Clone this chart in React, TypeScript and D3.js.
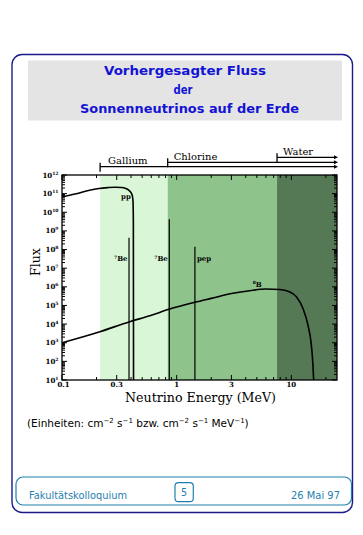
import React from "react";
import * as d3 from "d3";

// ---- data ----
const thresholdNames = ["Gallium", "Chlorine", "Water"];
const thresholdEnergy = [0.215, 0.835, 7.5]; // MeV
const regionColors = ["#d9f7d7", "#8ec38c", "#557955"];

const ppEnergy = [0.1, 0.13, 0.17, 0.21, 0.25, 0.29, 0.33, 0.36, 0.38, 0.4, 0.41, 0.416, 0.419, 0.4205];
const ppFlux = [6.6e10, 9.5e10, 1.48e11, 1.9e11, 2.1e11, 2.2e11, 2.14e11, 1.9e11, 1.58e11, 1.12e11, 7.9e10, 4.0e10, 3.2e9, 10];

const b8Energy = [0.1, 0.214, 0.39, 0.584, 0.855, 1.44, 2.0, 3.09, 4.33, 6.0, 7.9, 9.6, 11.06, 12.6, 13.95, 14.93, 15.42, 15.64];
const b8Flux = [1.0e3, 3.9e3, 1.35e4, 2.8e4, 6.2e4, 1.48e5, 2.4e5, 4.5e5, 6.2e5, 7.6e5, 7.2e5, 5.5e5, 2.95e5, 7.1e4, 8.9e3, 760, 65, 10];

const lineMass = ["7", "7", ""];
const lineNames = ["Be", "Be", "pep"];
const lineEnergy = [0.384, 0.862, 1.442];
const lineFlux = [4.3e8, 4.2e9, 1.42e8];

const xTickValues = [0.1, 0.3, 1, 3, 10];
const xTickLabels = ["0.1", "0.3", "1", "3", "10"];
const yTickExponents = [1, 2, 3, 4, 5, 6, 7, 8, 9, 10, 11, 12];

const W = 363;
const H = 535;
const left = 62, right = 337, top = 175, bottom = 380;

export default function App() {
  const x = d3.scaleLog().domain([0.1, 25]).range([left, right]);
  const y = d3.scaleLog().domain([10, 1e12]).range([bottom, top]);

  const line = d3
    .line<[number, number]>()
    .x((d) => x(d[0]))
    .y((d) => y(d[1]))
    .curve(d3.curveMonotoneX);

  const ppPath = line(ppEnergy.map((e, i) => [e, ppFlux[i]] as [number, number])) || "";
  const b8Path = line(b8Energy.map((e, i) => [e, b8Flux[i]] as [number, number])) || "";

  const xMinor = x.ticks();
  const yMinor = y.ticks(20);
  const isDecade = (v: number) => Math.abs(Math.log10(v) - Math.round(Math.log10(v))) < 1e-6;

  const regionEdges = [...thresholdEnergy, 25];
  const navy = "#1b1b8c";
  const teal = "#1f80b0";
  const titleBlue = "#1313d4";
  const serif = "'DejaVu Serif', serif";
  const sans = "'DejaVu Sans', sans-serif";

  // legend bar geometry (vertical stacking)
  const barY = [166.7, 162.3, 157.3];

  return (
    <svg
      width={W}
      height={H}
      viewBox={`0 0 ${W} ${H}`}
      style={{ position: "absolute", left: 0, top: 0, background: "#fff" }}
    >
      <defs>
        <clipPath id="plotclip">
          <rect x={left} y={top} width={right - left} height={bottom - top} />
        </clipPath>
      </defs>
      <rect x={0} y={0} width={W} height={H} fill="#fff" />

      {/* outer slide frame */}
      <rect x={12} y={54.5} width={340.5} height={458} rx={10} ry={10} fill="none" stroke={navy} strokeWidth={1.4} />

      {/* title box */}
      <rect x={28} y={60.5} width={314} height={60} fill="#e4e4e4" />
      <g fill={titleBlue} fontFamily={sans} fontWeight="bold" fontSize={13} textAnchor="middle">
        <text x={185} y={75} textLength={162} lengthAdjust="spacingAndGlyphs">Vorhergesagter Fluss</text>
        <text x={183} y={93.5} textLength={19} lengthAdjust="spacingAndGlyphs">der</text>
        <text x={189.5} y={112.5} textLength={219} lengthAdjust="spacingAndGlyphs">Sonnenneutrinos auf der Erde</text>
      </g>

      {/* detector threshold bars */}
      {thresholdEnergy.map((e, i) => {
        const x0 = x(e);
        const yy = barY[i];
        return (
          <g key={thresholdNames[i]}>
            <line x1={x0} x2={right - 2} y1={yy} y2={yy} stroke="#000" strokeWidth={1.2} />
            <line x1={x0} x2={x0} y1={yy - 4} y2={yy + 5} stroke="#000" strokeWidth={1.3} />
            <path d={`M${right + 1},${yy} L${right - 3},${yy - 2} L${right - 3},${yy + 2} Z`} fill="#000" />
            <text
              x={x0 + 6 + (i === 0 ? 2 : 0)}
              y={yy - 2.3}
              fontFamily={serif}
              fontSize={10}
              fill="#000"
            >
              {thresholdNames[i]}
            </text>
          </g>
        );
      })}

      {/* sensitivity regions */}
      {thresholdEnergy.map((e, i) => (
        <rect
          key={"r" + i}
          x={x(e)}
          y={top}
          width={x(regionEdges[i + 1]) - x(e)}
          height={bottom - top}
          fill={regionColors[i]}
        />
      ))}

      {/* spectra */}
      <g clipPath="url(#plotclip)" fill="none" stroke="#000">
        <path d={ppPath} strokeWidth={1.6} />
        <path d={b8Path} strokeWidth={1.6} />
        {lineEnergy.map((e, i) => (
          <line key={"l" + i} x1={x(e)} x2={x(e)} y1={y(lineFlux[i])} y2={bottom} strokeWidth={1.2} />
        ))}
      </g>

      {/* spectrum labels */}
      <g fontFamily={serif} fontWeight="bold" fontSize={7} fill="#000">
        <text x={x(0.415) - 2} y={199} textAnchor="end">pp</text>
        {lineEnergy.map((e, i) => (
          <text
            key={"t" + i}
            x={i < 2 ? x(e) - 1.5 : x(e) + 2}
            y={261}
            textAnchor={i < 2 ? "end" : "start"}
          >
            {lineMass[i] ? (
              <tspan fontSize={4.5} dy={-2.5}>{lineMass[i]}</tspan>
            ) : null}
            <tspan dy={lineMass[i] ? 2.5 : 0}>{lineNames[i]}</tspan>
          </text>
        ))}
        <text x={x(4.6)} y={y(d3.max(b8Flux) as number) - 2.5}>
          <tspan fontSize={4.5} dy={-2.5}>8</tspan>
          <tspan dy={2.5}>B</tspan>
        </text>
      </g>

      {/* frame */}
      <rect x={left} y={top} width={right - left} height={bottom - top} fill="none" stroke="#000" strokeWidth={1.3} />

      {/* x ticks (bottom & top, inward) */}
      {xMinor.map((v, i) => {
        const big = xTickValues.some((t) => Math.abs(t - v) < 1e-9);
        const len = big ? 5 : 3;
        return (
          <g key={"xt" + i} stroke="#000" strokeWidth={1}>
            <line x1={x(v)} x2={x(v)} y1={bottom} y2={bottom - len} />
            <line x1={x(v)} x2={x(v)} y1={top} y2={top + len} />
          </g>
        );
      })}
      {/* y ticks (left & right, inward) */}
      {yMinor.map((v, i) => {
        const len = isDecade(v) ? 5 : 3;
        return (
          <g key={"yt" + i} stroke="#000" strokeWidth={1}>
            <line x1={left} x2={left + len} y1={y(v)} y2={y(v)} />
            <line x1={right} x2={right - len} y1={y(v)} y2={y(v)} />
          </g>
        );
      })}

      {/* x tick labels */}
      <g fontFamily={serif} fontWeight="bold" fontSize={7} fill="#000" textAnchor="middle">
        {xTickValues.map((v, i) => (
          <text key={"xl" + i} x={x(v) + (i === 0 ? 1.5 : 0)} y={387}>
            {xTickLabels[i]}
          </text>
        ))}
      </g>
      {/* y tick labels */}
      <g fontFamily={serif} fontWeight="bold" fontSize={7} fill="#000">
        {yTickExponents.map((p) => (
          <text key={"yl" + p} x={58.5} y={y(Math.pow(10, p)) + 2.5} textAnchor="end">
            10
            <tspan fontSize={4.5} dy={-3}>{p}</tspan>
          </text>
        ))}
      </g>

      {/* axis titles */}
      <text
        x={200.5}
        y={402}
        textAnchor="middle"
        fontFamily={serif}
        fontSize={12.5}
        fill="#000"
        textLength={151}
        lengthAdjust="spacingAndGlyphs"
      >
        Neutrino Energy (MeV)
      </text>
      <text
        transform="translate(39.5,262) rotate(-90)"
        textAnchor="middle"
        fontFamily={serif}
        fontSize={12.5}
        fill="#000"
      >
        Flux
      </text>

      {/* units note */}
      <text x={27} y={427} fontFamily={sans} fontSize={10.5} fill="#000">
        (Einheiten: cm<tspan fontSize={7} dy={-4}>−2</tspan>
        <tspan dy={4}> s</tspan>
        <tspan fontSize={7} dy={-4}>−1</tspan>
        <tspan dy={4}> bzw. cm</tspan>
        <tspan fontSize={7} dy={-4}>−2</tspan>
        <tspan dy={4}> s</tspan>
        <tspan fontSize={7} dy={-4}>−1</tspan>
        <tspan dy={4}> MeV</tspan>
        <tspan fontSize={7} dy={-4}>−1</tspan>
        <tspan dy={4}>)</tspan>
      </text>

      {/* footer */}
      <rect x={16} y={477} width={335.5} height={28} rx={7} ry={7} fill="none" stroke={teal} strokeWidth={1.2} />
      <rect x={175} y={482.7} width={18.3} height={19} rx={3.5} ry={3.5} fill="none" stroke={teal} strokeWidth={1.2} />
      <g fontFamily={sans} fontSize={9.7} fill={teal}>
        <text x={29} y={499} textLength={98} lengthAdjust="spacingAndGlyphs">Fakultätskolloquium</text>
        <text x={184.2} y={496} textAnchor="middle">5</text>
        <text x={340} y={499} textAnchor="end" textLength={49} lengthAdjust="spacingAndGlyphs">26 Mai 97</text>
      </g>
    </svg>
  );
}
